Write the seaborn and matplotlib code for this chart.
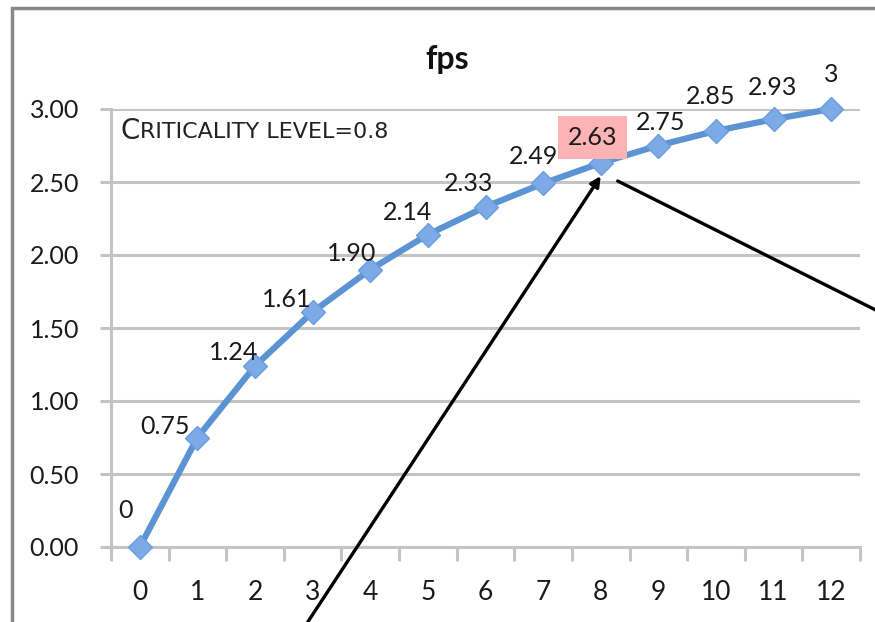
import matplotlib
matplotlib.use("Agg")
import matplotlib.pyplot as plt
import matplotlib.patches as mpatches
from matplotlib.transforms import offset_copy
import seaborn as sns
import pandas as pd

# chart data
steps = list(range(13))
fps = [0, 0.75, 1.24, 1.61, 1.90, 2.14, 2.33, 2.49, 2.63, 2.75, 2.85, 2.93, 3]
fps_labels = ["0", "0.75", "1.24", "1.61", "1.90", "2.14", "2.33", "2.49",
              "2.63", "2.75", "2.85", "2.93", "3"]
y_ticks = [0.0, 0.5, 1.0, 1.5, 2.0, 2.5, 3.0]
highlight_step = 8
criticality = 0.8

# label placement relative to each marker, in pixels (right, up)
label_offsets = [(-14, 36), (-32, 11), (-21, 13), (-26, 12), (-19, 16), (-20, 22),
                 (-17, 23), (-10, 27), (-8, 26), (2, 23), (-5, 34), (-1, 32), (0, 35)]

sns.set_theme(style="white")
plt.rcParams["font.family"] = ["Lato", "DejaVu Sans"]

W, H, DPI = 875, 622, 100
fig = plt.figure(figsize=(W / DPI, H / DPI), dpi=DPI)
ax = fig.add_axes([111 / W, (H - 547) / H, (860 - 111) / W, (547 - 109) / H])

df = pd.DataFrame({"step": steps, "fps": fps})
line_col = "#5B93D3"
sns.lineplot(data=df, x="step", y="fps", ax=ax, color=line_col, linewidth=4.5,
             marker="D", markersize=12, markerfacecolor="#7DAAE6",
             markeredgecolor="#6A9EDF", markeredgewidth=1.0, clip_on=False, zorder=5)

grid_col = "#C4C4C4"
txt_col = "#1a1a1a"
ax.set_xlim(-0.5, len(steps) - 0.5)
ax.set_ylim(y_ticks[0], y_ticks[-1])
ax.set_yticks(y_ticks)
ax.set_yticklabels([f"{v:.2f}" for v in y_ticks])
ax.set_xticks(steps)
ax.set_xticklabels([str(s) for s in steps])
ax.set_xticks([s - 0.5 for s in steps] + [steps[-1] + 0.5], minor=True)
ax.tick_params(axis="x", which="major", length=0, pad=24, labelsize=19, colors=txt_col)
ax.tick_params(axis="x", which="minor", length=10, width=2.2, color=grid_col, bottom=True)
ax.tick_params(axis="y", which="major", length=8, width=2.2, color=grid_col, pad=15,
               labelsize=18, labelcolor=txt_col, left=True)
ax.yaxis.grid(True, color=grid_col, linewidth=2.2)
ax.xaxis.grid(False)
ax.set_axisbelow(True)
for side in ("top", "right"):
    ax.spines[side].set_visible(False)
for side in ("left", "bottom"):
    ax.spines[side].set_color(grid_col)
    ax.spines[side].set_linewidth(2.2)
ax.set_xlabel("")
ax.set_ylabel("")

# value labels
for i, (s, v, lab) in enumerate(zip(steps, fps, fps_labels)):
    dx, dy = label_offsets[i]
    kw = {}
    if s == highlight_step:
        kw["bbox"] = dict(boxstyle="square,pad=0.4", fc="#FDB3B3", ec="none")
    ax.annotate(lab, xy=(s, v), xytext=(dx, dy), textcoords="offset pixels",
                ha="center", va="center", fontsize=18, color=txt_col,
                zorder=6, annotation_clip=False, **kw)

# title
fig.text(447 / W, 1 - 60 / H, "fps", ha="center", va="center",
         fontsize=23, fontweight="bold", color="#111111")

# criticality note in small caps
note_y = 1 - 131 / H
t1 = fig.text(120 / W, note_y, "C", ha="left", va="center", fontsize=20,
              family=["DejaVu Sans"], color="#222222")
fig.canvas.draw()
bb = t1.get_window_extent()
fig.text(bb.x1 / W + 1 / W, note_y - 1 / H, f"RITICALITY LEVEL={criticality}",
         ha="left", va="center", fontsize=16, family=["DejaVu Sans"],
         color="#222222")

# arrows pointing at the highlighted value
hv = fps[highlight_step]
head = offset_copy(ax.transData, fig=fig, x=0, y=-13, units="dots")
ax.annotate("", xy=(highlight_step, hv), xycoords=head,
            xytext=(-293, -446), textcoords="offset pixels",
            arrowprops=dict(arrowstyle="-|>", color="black", lw=2.4,
                            mutation_scale=15, shrinkA=0, shrinkB=0),
            annotation_clip=False, zorder=7)
start = offset_copy(ax.transData, fig=fig, x=17, y=-18, units="dots")
ax.annotate("", xy=(highlight_step, hv), xycoords=start,
            xytext=(516, -258), textcoords="offset pixels",
            arrowprops=dict(arrowstyle="-", color="black", lw=2.4,
                            shrinkA=0, shrinkB=0),
            annotation_clip=False, zorder=7)

# outer chart frame
frame = mpatches.Rectangle((12 / W, -0.1), 1.2, 1 - 8 / H + 0.1,
                           transform=fig.transFigure, fill=False,
                           edgecolor="#888888", linewidth=2.5, clip_on=False)
fig.patches.append(frame)

fig.savefig("out.png", dpi=DPI)
